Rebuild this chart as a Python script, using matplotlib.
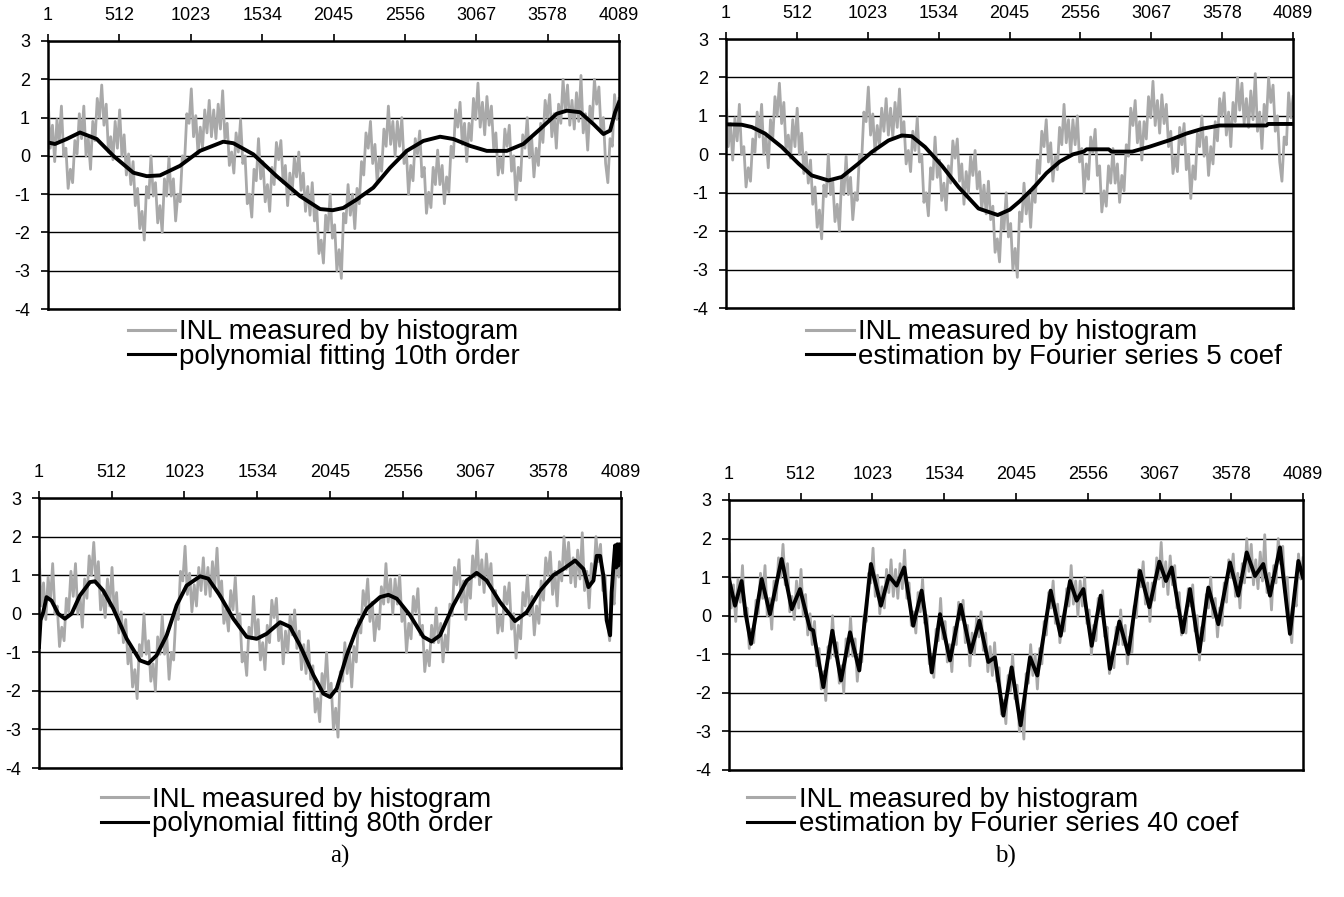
import numpy as np
import matplotlib.pyplot as plt
from matplotlib.lines import Line2D

plt.rcParams['font.family'] = ['Liberation Sans', 'DejaVu Sans']
plt.rcParams['axes.unicode_minus'] = False

# measured INL (gray), evenly spaced over codes 1..4089
inl_hist = [
    1.6, 0.2, 0.8, -0.15, 0.95, 0.35, 1.3, 0.0, 0.2, -0.85,
    -0.35, -0.7, 0.4, 0.05, 1.1, 0.45, 1.3, 0.0, 0.45, -0.35,
    0.9, 0.4, 1.5, 1.0, 1.85, 0.8, 1.35, 0.1, 0.5, -0.1,
    0.9, 0.2, 1.2, 0.0, 0.55, -0.5, 0.05, -0.75, -0.15, -1.3,
    -0.85, -1.9, -1.45, -2.2, -0.8, -1.1, 0.0, -1.05, -0.7, -1.75,
    -1.3, -2.0, -0.6, -1.05, -0.05, -1.05, -0.6, -1.7, -1.0, -1.2,
    0.0, -0.15, 1.1, 0.85, 1.75, 0.5, 1.05, 0.05, 0.75, 0.2,
    1.2, 0.6, 1.45, 0.5, 1.2, 0.45, 1.35, 0.7, 1.7, 0.45,
    0.85, -0.25, 0.1, -0.45, 0.6, 0.1, 0.95, -0.2, 0.0, -1.25,
    -1.0, -1.6, -0.35, -0.65, 0.45, -0.6, -0.15, -1.2, -0.75, -1.45,
    -0.3, -0.75, 0.35, -0.1, 0.4, -0.7, -0.25, -1.3, -0.45, -1.0,
    -0.05, -0.55, 0.1, -0.9, -0.45, -1.45, -0.8, -1.55, -0.7, -1.7,
    -1.35, -2.55, -2.2, -2.8, -1.55, -1.95, -1.0, -2.15, -1.8, -3.0,
    -2.45, -3.2, -1.5, -1.75, -0.75, -1.55, -1.0, -1.9, -0.85, -1.25,
    -0.15, -0.5, 0.6, 0.2, 0.9, -0.2, 0.3, -0.7, -0.05, -0.4,
    0.7, 0.25, 1.3, 0.3, 0.9, 0.0, 0.9, 0.25, 1.0, -0.2,
    0.15, -1.0, -0.25, -0.65, 0.45, 0.05, 0.65, -0.55, -0.3, -1.5,
    -0.95, -1.35, -0.3, -0.75, 0.15, -0.75, -0.25, -1.25, -0.55, -0.95,
    0.25, -0.05, 1.2, 0.75, 1.4, 0.3, 0.85, -0.15, 0.85, 0.4,
    1.5, 0.95, 1.9, 0.75, 1.4, 0.55, 1.55, 0.8, 1.3, 0.2,
    0.6, -0.5, -0.05, -0.45, 0.7, 0.25, 0.8, -0.4, 0.0, -1.15,
    -0.3, -0.65, 0.55, 0.2, 1.0, -0.05, 0.45, -0.55, 0.2, -0.25,
    0.85, 0.35, 1.45, 1.0, 1.6, 0.5, 1.1, 0.2, 1.35, 0.85,
    2.0, 1.15, 1.85, 0.8, 1.45, 0.7, 1.65, 0.9, 2.1, 0.6,
    1.1, 0.15, 1.3, 0.85, 2.0, 1.35, 1.8, 0.6, 1.0, -0.2,
    -0.7, 0.45, 0.25, 1.6, 0.95, 1.5,
]
inl_codes = np.linspace(1, 4089, len(inl_hist))

# polynomial fitting 10th order
poly10_x = [1, 51, 135, 230, 350, 469, 612, 708, 803, 946, 1089, 1256, 1328,
            1471, 1638, 1805, 1949, 2040, 2115, 2211, 2330, 2450, 2569, 2688,
            2808, 2903, 3023, 3142, 3285, 3404, 3524, 3643, 3715, 3810, 3905,
            3977, 4025, 4061, 4089]
poly10_y = [0.35, 0.31, 0.44, 0.61, 0.44, 0.0, -0.44, -0.53, -0.51, -0.26,
            0.13, 0.37, 0.33, 0.04, -0.53, -1.05, -1.39, -1.42, -1.36, -1.14,
            -0.83, -0.31, 0.13, 0.39, 0.5, 0.44, 0.26, 0.13, 0.13, 0.31, 0.7,
            1.1, 1.18, 1.14, 0.83, 0.57, 0.66, 1.14, 1.4]

# Fourier series 5 coef
four5_x = [1, 114, 186, 282, 403, 523, 619, 739, 835, 956, 1052, 1172, 1268,
           1340, 1436, 1556, 1677, 1821, 1960, 2047, 2119, 2215, 2311, 2407,
           2503, 2580, 2600, 2760, 2780, 2930, 3056, 3200, 3320, 3440, 3560,
           3897, 3910, 4089]
four5_y = [0.78, 0.77, 0.71, 0.54, 0.19, -0.24, -0.55, -0.68, -0.59, -0.24,
           0.06, 0.36, 0.49, 0.47, 0.19, -0.29, -0.85, -1.41, -1.58, -1.44,
           -1.22, -0.88, -0.49, -0.19, 0.0, 0.07, 0.13, 0.13, 0.07, 0.07, 0.2,
           0.37, 0.54, 0.67, 0.75, 0.75, 0.79, 0.79]

# polynomial fitting 80th order
poly80_x = [1, 12, 31, 54, 89, 136, 183, 230, 288, 359, 394, 452, 523, 617,
            710, 769, 827, 898, 968, 1038, 1132, 1190, 1272, 1366, 1460, 1530,
            1600, 1694, 1764, 1834, 1928, 1998, 2045, 2092, 2162, 2232, 2303,
            2396, 2455, 2514, 2607, 2701, 2759, 2818, 2911, 3005, 3075, 3145,
            3239, 3344, 3426, 3520, 3614, 3684, 3766, 3825, 3860, 3895, 3918,
            3942, 3965, 3988, 4012, 4023, 4035, 4047, 4055, 4063, 4070, 4078,
            4087]
poly80_y = [-0.86, -0.17, 0.04, 0.43, 0.34, 0.0, -0.13, 0.0, 0.47, 0.82, 0.84,
            0.6, 0.13, -0.65, -1.21, -1.29, -1.08, -0.56, 0.22, 0.73, 0.97,
            0.91, 0.47, -0.13, -0.6, -0.65, -0.52, -0.22, -0.34, -0.82, -1.59,
            -2.07, -2.16, -1.94, -1.08, -0.39, 0.13, 0.43, 0.49, 0.39, -0.04,
            -0.6, -0.72, -0.56, 0.22, 0.86, 1.06, 0.86, 0.3, -0.19, 0.04, 0.6,
            1.0, 1.16, 1.38, 1.16, 0.69, 0.86, 1.5, 1.5, 0.98, -0.17, -0.56,
            0.56, 1.2, 1.77, 1.2, 1.8, 1.25, 1.8, 1.4]

# Fourier series 40 coef
four40_x = [1, 44, 91, 120, 158, 234, 293, 376, 448, 507, 578, 600, 673, 737,
            799, 863, 929, 1012, 1083, 1140, 1195, 1249, 1313, 1373, 1395, 1445,
            1504, 1575, 1651, 1722, 1784, 1848, 1895, 1955, 2014, 2078, 2145,
            2197, 2292, 2363, 2430, 2477, 2525, 2584, 2648, 2714, 2781, 2845,
            2928, 2995, 3066, 3113, 3154, 3232, 3284, 3351, 3415, 3486, 3569,
            3628, 3688, 3747, 3806, 3854, 3925, 3996, 4056, 4089]
four40_y = [0.95, 0.26, 0.9, 0.04, -0.73, 0.95, 0.04, 1.47, 0.17, 0.69, -0.34,
            -0.38, -1.85, -0.39, -1.68, -0.43, -1.42, 1.34, 0.26, 1.03, 0.78,
            1.25, -0.26, 0.65, 0.1, -1.47, 0.04, -1.16, 0.28, -0.95, -0.13,
            -1.2, -1.08, -2.59, -1.34, -2.84, -1.08, -1.55, 0.65, -0.52, 0.9,
            0.39, 0.69, -0.78, 0.52, -1.38, -0.15, -0.99, 1.16, 0.22, 1.4, 0.9,
            1.25, -0.43, 0.69, -0.93, 0.73, -0.22, 1.38, 0.52, 1.64, 1.03, 1.34,
            0.52, 1.77, -0.47, 1.42, 0.99]

x_ticks = [1, 512, 1023, 1534, 2045, 2556, 3067, 3578, 4089]
y_ticks = [-4, -3, -2, -1, 0, 1, 2, 3]

GRAY = '#a9a9a9'

panels = [
    # axes rect (fig fraction), fit x, fit y, fit label, legend anchor
    ([0.0357, 0.6555, 0.4249, 0.2988], poly10_x, poly10_y,
     'polynomial fitting 10th order', (0.095, 0.644)),
    ([0.5402, 0.6566, 0.4219, 0.2999], four5_x, four5_y,
     'estimation by Fourier series 5 coef', (0.600, 0.644)),
    ([0.0290, 0.1438, 0.4331, 0.3010], poly80_x, poly80_y,
     'polynomial fitting 80th order', (0.075, 0.123)),
    ([0.5424, 0.1416, 0.4271, 0.3010], four40_x, four40_y,
     'estimation by Fourier series 40 coef', (0.556, 0.123)),
]

fig = plt.figure(figsize=(13.44, 8.97), dpi=100)

for rect, fx, fy, label, anchor in panels:
    ax = fig.add_axes(rect)
    ax.plot(inl_codes, inl_hist, color=GRAY, lw=2.0, zorder=2)
    ax.plot(fx, fy, color='black', lw=2.8, zorder=3, solid_joinstyle='round')
    ax.set_xlim(1, 4089)
    ax.set_ylim(-4, 3)
    ax.set_xticks(x_ticks)
    ax.set_yticks(y_ticks)
    ax.xaxis.tick_top()
    ax.tick_params(axis='both', direction='out', length=5, width=1.2,
                   labelsize=13, color='black')
    ax.tick_params(axis='x', pad=7)
    ax.tick_params(axis='y', pad=8)
    ax.grid(axis='y', color='black', lw=1.0, zorder=1)
    ax.set_axisbelow(True)
    for s in ax.spines.values():
        s.set_linewidth(1.8)
    handles = [Line2D([], [], color=GRAY, lw=2.2),
               Line2D([], [], color='black', lw=2.2)]
    fig.legend(handles, ['INL measured by histogram', label],
               loc='upper left', bbox_to_anchor=anchor,
               frameon=False, fontsize=20, handlelength=1.7,
               handletextpad=0.15, labelspacing=-0.05, borderpad=0,
               borderaxespad=0)

fig.text(0.253, 0.045, 'a)', family='Liberation Serif', fontsize=18,
         ha='center', va='center')
fig.text(0.748, 0.045, 'b)', family='Liberation Serif', fontsize=18,
         ha='center', va='center')

fig.savefig('out.png', dpi=100)
